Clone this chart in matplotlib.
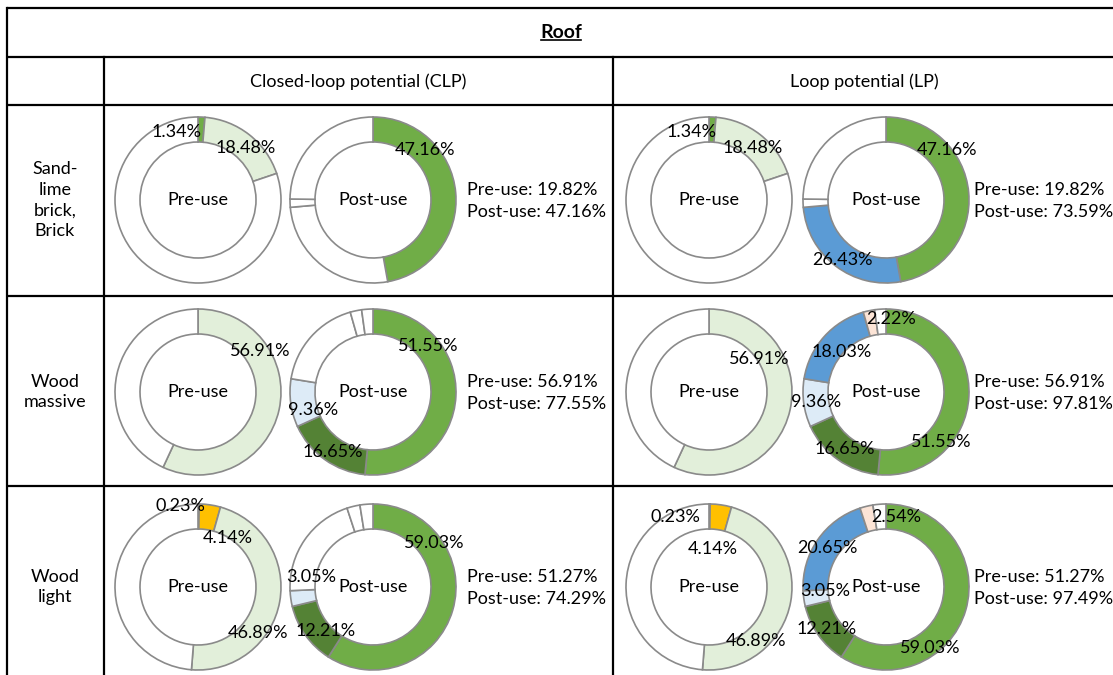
import matplotlib.pyplot as plt

plt.rcParams['font.family'] = ['Lato', 'DejaVu Sans']

# table text
title = 'Roof'
columns = ['Closed-loop potential (CLP)', 'Loop potential (LP)']
rows = ['Sand-\nlime\nbrick,\nBrick', 'Wood\nmassive', 'Wood\nlight']

# pre-use shares (%), clockwise from 12 o'clock
pre_values = [[1.34, 18.48], [56.91], [0.23, 4.14, 46.89]]
pre_colors = [['#70AD47', '#E2EFDA'], ['#E2EFDA'], ['#70AD47', '#FFC000', '#E2EFDA']]

# post-use shares (%) by category, one entry per row
post_green = [47.16, 51.55, 59.03]
post_dark = [0, 16.65, 12.21]
post_lightblue = [0, 9.36, 3.05]
post_blue = [26.43, 18.03, 20.65]
post_peach = [0, 2.22, 2.54]
post_other = [1.6, 0, 0]

# totals printed next to each pair
pre_total = [19.82, 56.91, 51.27]
clp_total = [47.16, 77.55, 74.29]
lp_total = [73.59, 97.81, 97.49]

clp_colors = ['#70AD47', '#548235', '#DDEBF7', 'white', 'white', 'white']
lp_colors = ['#70AD47', '#548235', '#DDEBF7', '#5B9BD5', '#FCE4D6', 'white']

# label offsets from donut centre (px), in slice order, None = no label
pre_lbl = [
    [[(-21, -68), (48, -52)], [(-17, -68), (44, -52)]],
    [[(62, -41)], [(50, -33)]],
    [[(-18, -81), (30, -49), (60, 46)], [(-34, -70), (4, -38), (47, 54)]],
]
clp_lbl = [
    [(52, -50), None, None, None, None, None],
    [(55, -46), (-40, 60), (-60, 18), None, None, None],
    [(61, -44), (-47, 44), (-62, -10), None, None, None],
]
lp_lbl = [
    [(61, -50), None, None, (-44, 60), None, None],
    [(55, 50), (-41, 57), (-70, 10), (-44, -40), (5, -73), None],
    [(44, 61), (-59, 42), (-61, 4), (-59, -39), (10, -70), None],
]

W, H = 1113, 675
fig = plt.figure(figsize=(W / 100, H / 100), dpi=100)
ax = fig.add_axes([0, 0, 1, 1])

row_y = [200, 392, 587]
donut_x = [198, 373, 709, 886]
R, RING = 83, 25
FS = 13
EDGE = '#8A8A8A'


def donut(cx, cy, values, colors, offsets, centre_text):
    vals, cols, offs = [], [], []
    for v, c, o in zip(values, colors, offsets):
        if v > 0:
            vals.append(v)
            cols.append(c)
            offs.append(o)
    rest = 100 - sum(vals)
    vals.append(rest)
    cols.append('white')
    # y axis points down, so startangle -90 / counterclock draws clockwise from the top
    ax.pie(vals, colors=cols, startangle=-90, counterclock=True,
           center=(cx, cy), radius=R, frame=True,
           wedgeprops=dict(width=RING, edgecolor=EDGE, linewidth=1.2))
    for v, o in zip(vals, offs):
        if o is not None:
            ax.text(cx + o[0], cy + o[1], f'{v:.2f}%', ha='center', va='center',
                    fontsize=FS, color='black', zorder=5)
    ax.text(cx, cy, centre_text, ha='center', va='center', fontsize=FS, zorder=5)


for i, cy in enumerate(row_y):
    post_all = [post_green[i], post_dark[i], post_lightblue[i],
                post_blue[i], post_peach[i], post_other[i]]
    # CLP pair
    donut(donut_x[0], cy, pre_values[i], pre_colors[i], pre_lbl[i][0], 'Pre-use')
    donut(donut_x[1], cy, post_all, clp_colors, clp_lbl[i], 'Post-use')
    # LP pair
    donut(donut_x[2], cy, pre_values[i], pre_colors[i], pre_lbl[i][1], 'Pre-use')
    donut(donut_x[3], cy, post_all, lp_colors, lp_lbl[i], 'Post-use')

    ax.text(467, cy + 1, f'Pre-use: {pre_total[i]:.2f}%\nPost-use: {clp_total[i]:.2f}%',
            ha='left', va='center', fontsize=FS, linespacing=1.45)
    ax.text(974, cy + 1, f'Pre-use: {pre_total[i]:.2f}%\nPost-use: {lp_total[i]:.2f}%',
            ha='left', va='center', fontsize=FS, linespacing=1.45)
    ax.text(55, cy, rows[i], ha='center', va='center', fontsize=FS, linespacing=1.35)

# grid lines of the table
lw = 1.6
for y in [8, 57, 105, 296, 486]:
    ax.plot([7, W], [y, y], color='black', lw=lw, solid_capstyle='butt')
ax.plot([7, 7], [8, H], color='black', lw=lw)
for x in [104, 613]:
    ax.plot([x, x], [57, H], color='black', lw=lw)

# headers
ax.text(358, 82, columns[0], ha='center', va='center', fontsize=FS)
ax.text(864, 82, columns[1], ha='center', va='center', fontsize=FS)
t = ax.text(561, 32, title, ha='center', va='center', fontsize=FS + 1, fontweight='bold')

ax.set_xlim(0, W)
ax.set_ylim(H, 0)
ax.set_aspect('equal')
ax.axis('off')

# underline the title
fig.canvas.draw()
bb = t.get_window_extent().transformed(ax.transData.inverted())
uy = max(bb.y0, bb.y1) - 1
ax.plot([bb.x0 + 1, bb.x1 - 1], [uy, uy], color='black', lw=1.2)

fig.savefig('out.png', dpi=100)
